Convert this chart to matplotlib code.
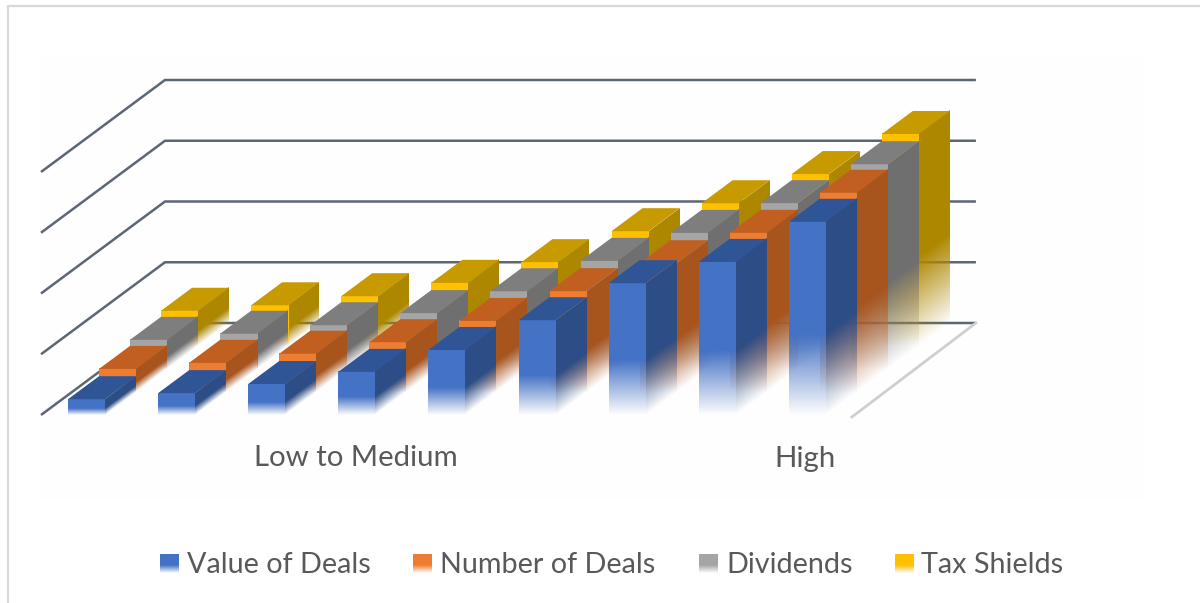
import numpy as np
import matplotlib
matplotlib.use("Agg")
import matplotlib.pyplot as plt
from matplotlib.colors import to_rgb
from matplotlib.patches import Polygon, Rectangle
from matplotlib.transforms import Affine2D

plt.rcParams['font.family'] = ['Lato', 'DejaVu Sans']

# Chart data: nine bins along the risk axis, four series per bin
group_labels = ["Low to Medium", "High"]
series_names = ["Value of Deals", "Number of Deals", "Dividends", "Tax Shields"]
value_of_deals = [0.26, 0.36, 0.51, 0.71, 1.07, 1.56, 2.17, 2.52, 3.18]
number_of_deals = [0.38, 0.48, 0.63, 0.82, 1.17, 1.66, 2.12, 2.62, 3.28]
dividends = [0.48, 0.58, 0.72, 0.92, 1.28, 1.78, 2.24, 2.73, 3.37]
tax_shields = [0.58, 0.67, 0.82, 1.04, 1.38, 1.89, 2.35, 2.83, 3.49]
series_values = [value_of_deals, number_of_deals, dividends, tax_shields]
grid_levels = [0, 1, 2, 3, 4]

# Face shades per series: front, top, side
front_colors = ["#4472C4", "#ED7D31", "#A5A5A5", "#FFC000"]
top_colors = ["#2F5597", "#C05F20", "#7E7E7E", "#C79A00"]
side_colors = ["#2C4D86", "#A8541D", "#6F6F6F", "#AE8700"]

# Oblique projection of (bin, depth, value) on the canvas, in pixels
ORIGIN_X, ORIGIN_Y = 41.0, 415.0
BIN_STEP = 90.1
BAR_WIDTH = 37.0
BAR_INSET = 27.0
DEPTH_DX, DEPTH_DY = 31.0, -23.0
UNIT = 60.75
FADE_SHARE = 0.42


def project(x, depth, value):
    return (ORIGIN_X + x + depth * DEPTH_DX,
            ORIGIN_Y + depth * DEPTH_DY - value * UNIT)


def fade_ramp(color, rows=400):
    # Opaque colour at the top, fading to nothing at the foot
    ramp = np.ones((rows, 48, 4))
    ramp[..., :3] = to_rgb(color)
    v = (np.arange(rows) + 0.5) / rows
    ramp[..., 3] = np.clip(v / FADE_SHARE, 0, 1)[:, None]
    return ramp


def faded_quad(ax, origin, u, v, color, zorder):
    # Parallelogram spanned by vectors u and v, carrying the vertical fade
    m = Affine2D.from_values(u[0], u[1], v[0], v[1], origin[0], origin[1])
    ax.imshow(fade_ramp(color), extent=(0, 1, 0, 1), origin='lower',
              transform=m + ax.transData, interpolation='nearest',
              aspect='auto', zorder=zorder)


fig = plt.figure(figsize=(12, 6.03), dpi=100, facecolor='white')
ax = fig.add_axes([0, 0, 1, 1])
ax.set_axis_off()

# Outer chart frame and the faint plot backdrop
ax.add_patch(Rectangle((40, 58), 1105, 442, fc='#FEFEFE', ec='none', zorder=0))
ax.plot([8, 8, 1200], [603, 5.5, 5.5], color='#D9D9D9', lw=1.6, zorder=1,
        solid_joinstyle='miter')

# Gridlines wrap from the side wall onto the back wall
depth_total = len(series_values)
plot_width = BIN_STEP * len(value_of_deals)
for level in grid_levels:
    a = project(0, 0, level)
    b = project(0, depth_total, level)
    c = project(plot_width, depth_total, level)
    ax.plot([a[0], b[0], c[0]], [a[1], b[1], c[1]], color='#5C6675', lw=1.8,
            zorder=2, solid_joinstyle='miter', solid_capstyle='butt')

# Near edge of the floor on the right
f0 = project(plot_width, 0, 0)
f1 = project(plot_width, depth_total, 0)
ax.plot([f0[0], f1[0]], [f0[1] + 2, f1[1]], color='#CFCFCF', lw=2.0, zorder=2)

# Bars, painted from the back row forward and left to right
z = 3
for depth in range(depth_total - 1, -1, -1):
    values = series_values[depth]
    for i, val in enumerate(values):
        x0 = BAR_INSET + i * BIN_STEP
        x1 = x0 + BAR_WIDTH
        fl = project(x0, depth, 0)
        fr = project(x1, depth, 0)
        tl = project(x0, depth, val)
        tr = project(x1, depth, val)
        rear_r = project(x1, depth + 1, val)
        rear_l = project(x0, depth + 1, val)
        foot_r = project(x1, depth + 1, 0)
        height = (0, tl[1] - fl[1])
        faded_quad(ax, fr, (foot_r[0] - fr[0], foot_r[1] - fr[1]), height,
                   side_colors[depth], z)
        faded_quad(ax, fl, (fr[0] - fl[0], 0), height, front_colors[depth], z + 1)
        ax.add_patch(Polygon([tl, tr, rear_r, rear_l], closed=True,
                             fc=top_colors[depth], ec='none', zorder=z + 2))
        z += 3

# Category labels under the bars
for label, cx in zip(group_labels, (356, 805)):
    ax.text(cx, 458.5, label, ha='center', va='center', fontsize=21.2,
            color='#595959', zorder=z)

# Legend row
legend_swatch_x = [160, 413, 699, 895]
legend_text_x = [187, 440, 726, 921]
for name, color, sx, tx in zip(series_names, front_colors, legend_swatch_x, legend_text_x):
    faded = fade_ramp(color)
    ax.imshow(faded, extent=(sx, sx + 18.5, 573, 554), origin='lower',
              interpolation='bilinear', aspect='auto', zorder=z)
    ax.text(tx, 565, name, ha='left', va='center', fontsize=20.7,
            color='#595959', zorder=z)

ax.set_xlim(0, 1200)
ax.set_ylim(603, 0)
fig.savefig('out.png', dpi=100)
